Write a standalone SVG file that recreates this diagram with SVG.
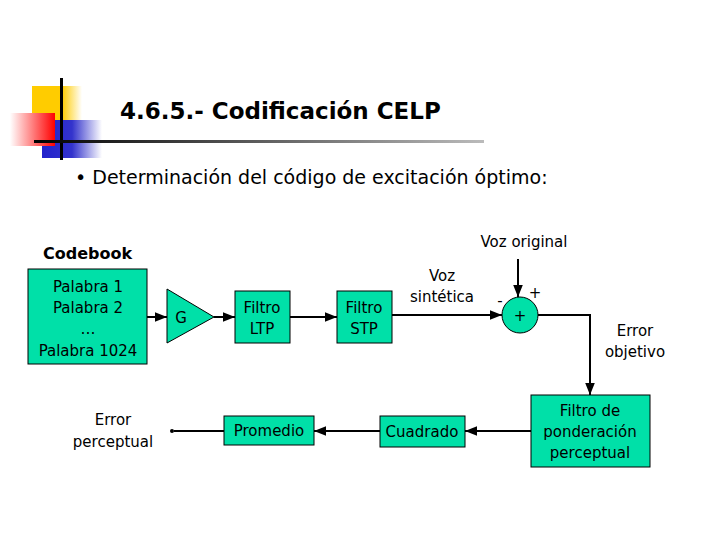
<svg xmlns="http://www.w3.org/2000/svg" width="720" height="540" viewBox="0 0 720 540">
<defs>
<linearGradient id="gr" x1="0" x2="1"><stop offset="0" stop-color="#fff"/><stop offset="1" stop-color="#f00"/></linearGradient>
<linearGradient id="gb" x1="0" x2="1"><stop offset="0" stop-color="#22c"/><stop offset="0.5" stop-color="#33c"/><stop offset="1" stop-color="#fff"/></linearGradient>
<linearGradient id="gy" x1="0" x2="1"><stop offset="0" stop-color="#fc0"/><stop offset="0.6" stop-color="#fc0"/><stop offset="1" stop-color="#fff"/></linearGradient>
<linearGradient id="gl" x1="0" x2="1"><stop offset="0" stop-color="#000"/><stop offset="1" stop-color="#bbb"/></linearGradient>
<marker id="a" viewBox="0 0 10 10" refX="10" refY="5" markerWidth="6" markerHeight="6" orient="auto"><path d="M0,1 L10,5 L0,9 z" fill="#000"/></marker>
<style>
.b{fill:#00e0a8;stroke:#000;stroke-width:1}
.t{font-family:"DejaVu Sans",Verdana,sans-serif;font-size:15px;fill:#000;text-anchor:middle}
.c{stroke:#000;stroke-width:2;fill:none}
</style>
</defs>
<g id="decor">
<rect x="32" y="86" width="50" height="36" fill="url(#gy)"/>
<rect x="42" y="120" width="60" height="38" fill="url(#gb)"/>
<rect x="10" y="113" width="45" height="33" fill="url(#gr)"/>
<rect x="60" y="78" width="3" height="82" fill="#000"/>
<rect x="34" y="140" width="450" height="3" fill="url(#gl)"/>
</g>
<text x="120" y="119" font-family="DejaVu Sans,Verdana,sans-serif" font-size="23" font-weight="bold">4.6.5.- Codificación CELP</text>
<text x="75" y="184" font-family="DejaVu Sans,Verdana,sans-serif" font-size="19">• Determinación del código de excitación óptimo:</text>
<text x="43" y="259" font-family="DejaVu Sans,Verdana,sans-serif" font-size="16" font-weight="bold">Codebook</text>
<g id="codebook"><rect class="b" x="28" y="269" width="119" height="95"/>
<text class="t" x="88" y="292">Palabra 1</text><text class="t" x="88" y="313">Palabra 2</text><text class="t" x="88" y="334">…</text><text class="t" x="88" y="356">Palabra 1024</text></g>
<g id="gain"><polygon class="b" points="167,289 214,317 167,343"/><text class="t" x="181" y="323">G</text></g>
<g id="ltp"><rect class="b" x="235" y="291" width="55" height="52"/><text class="t" x="262" y="313">Filtro</text><text class="t" x="262" y="334">LTP</text></g>
<g id="stp"><rect class="b" x="337" y="291" width="55" height="52"/><text class="t" x="364" y="313">Filtro</text><text class="t" x="364" y="334">STP</text></g>
<g id="sum"><circle class="b" cx="520" cy="315" r="18"/><text class="t" x="520" y="321">+</text>
<text class="t" x="535" y="298">+</text><text class="t" x="500" y="306">-</text></g>
<g id="ponderacion"><rect class="b" x="531" y="395" width="119" height="72"/><text class="t" x="590" y="416">Filtro de</text><text class="t" x="590" y="437">ponderación</text><text class="t" x="590" y="458">perceptual</text></g>
<g id="cuadrado"><rect class="b" x="380" y="416" width="85" height="31"/><text class="t" x="422" y="437">Cuadrado</text></g>
<g id="promedio"><rect class="b" x="224" y="416" width="90" height="29"/><text class="t" x="269" y="436">Promedio</text></g>
<g id="labels">
<text class="t" x="524" y="247">Voz original</text>
<text class="t" x="442" y="281">Voz</text><text class="t" x="442" y="302">sintética</text>
<text class="t" x="635" y="336">Error</text><text class="t" x="635" y="357">objetivo</text>
<text class="t" x="113" y="425">Error</text><text class="t" x="113" y="447">perceptual</text>
</g>
<g id="connectors">
<line class="c" x1="147" y1="317" x2="167" y2="317" marker-end="url(#a)"/>
<line class="c" x1="214" y1="317" x2="235" y2="317" marker-end="url(#a)"/>
<line class="c" x1="290" y1="317" x2="337" y2="317" marker-end="url(#a)"/>
<line class="c" x1="392" y1="315" x2="502" y2="315" marker-end="url(#a)"/>
<line class="c" x1="518" y1="259" x2="518" y2="297" marker-end="url(#a)"/>
<polyline class="c" points="538,315 590,315 590,395" marker-end="url(#a)"/>
<line class="c" x1="531" y1="431" x2="465" y2="431" marker-end="url(#a)"/>
<line class="c" x1="380" y1="431" x2="314" y2="431" marker-end="url(#a)"/>
<line class="c" x1="224" y1="431" x2="174" y2="431"/>
<circle cx="172" cy="431" r="2" fill="#000"/>
</g>
</svg>
